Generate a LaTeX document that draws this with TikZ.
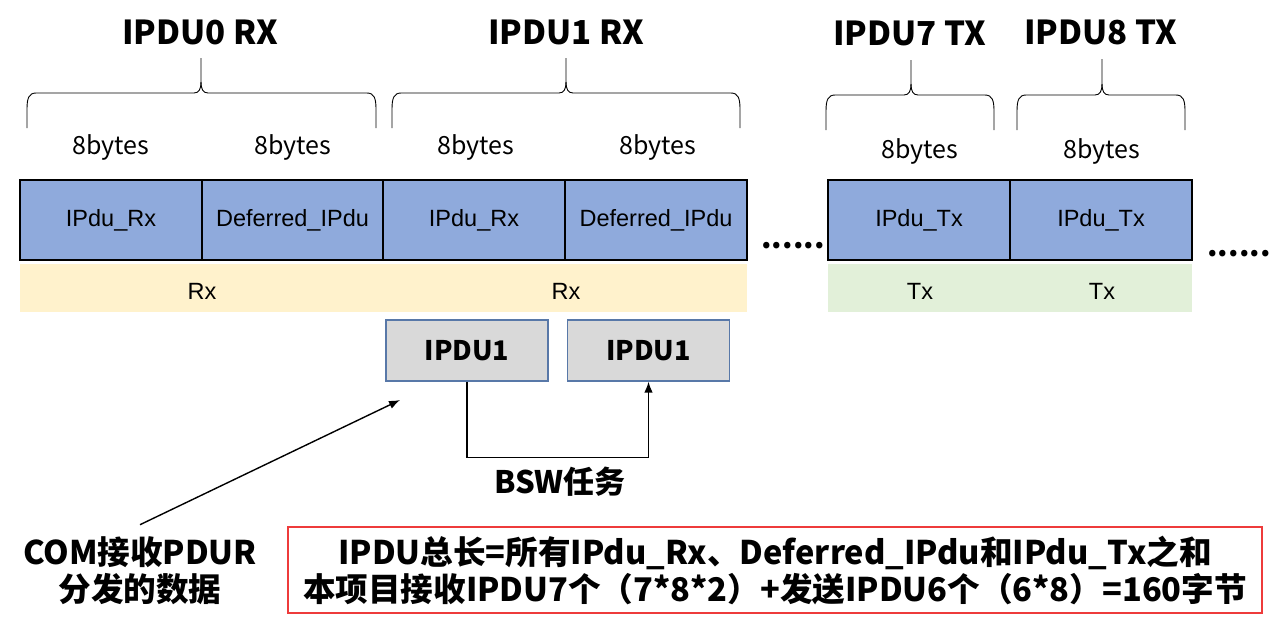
\documentclass[tikz,border=0pt]{standalone}
\usepackage{fontspec}
\setmainfont{Liberation Sans}
\newfontfamily\cjk{Noto Sans CJK SC}
\usetikzlibrary{arrows.meta}
\definecolor{blueF}{HTML}{8FAADC}
\definecolor{rxF}{HTML}{FFF2CC}
\definecolor{txF}{HTML}{E2F0D9}
\definecolor{grayF}{HTML}{D9D9D9}
\definecolor{grayB}{HTML}{5878A8}
\definecolor{redB}{HTML}{EE3B3B}
\newcommand{\mybrace}[6]{% xl xr xm ytop ymid ybot
  \draw[bracel] (#1,#6) -- (#1,#5+16) .. controls (#1,#5+5) and (#1+2,#5) .. (#1+9,#5)
    -- (#3-7,#5) .. controls (#3-2,#5) and (#3,#5-4) .. (#3,#5-11) -- (#3,#4);
  \draw[bracel] (#2,#6) -- (#2,#5+16) .. controls (#2,#5+5) and (#2-2,#5) .. (#2-9,#5)
    -- (#3+7,#5) .. controls (#3+2,#5) and (#3,#5-4) .. (#3,#5-11);
}
\begin{document}
\begin{tikzpicture}[x=1pt,y=-1pt,
  bluebox/.style={draw=black, line width=1.5pt, fill=blueF, minimum width=182, minimum height=80, inner sep=0, font=\fontsize{23.5}{27}\selectfont},
  barbox/.style={draw=none, minimum height=48, inner sep=0},
  bartxt/.style={inner sep=0, font=\fontsize{23.5}{27}\selectfont},
  graybox/.style={draw=grayB, line width=1.2pt, fill=grayF, minimum width=162, minimum height=61, inner sep=0, font=\cjk\bfseries\fontsize{27}{30}\selectfont},
  title/.style={font=\cjk\bfseries\fontsize{33}{38}\selectfont, inner sep=0},
  bytes/.style={font=\cjk\fontsize{25}{29}\selectfont, inner sep=0},
  bigtxt/.style={font=\cjk\bfseries\fontsize{32.6}{37}\selectfont, inner sep=0, align=center},
  bracel/.style={line width=0.9pt, black},
  conn/.style={line width=1.4pt, -{Latex[length=11pt,width=8.5pt]}}
]
\useasboundingbox (0,0) rectangle (1273,625);

% titles
\node[title] (t0) at (200,32) {IPDU0 RX};
\node[title] (t1) at (566,32) {IPDU1 RX};
\node[title] (t7) at (910,33) {IPDU7 TX};
\node[title] (t8) at (1101,32) {IPDU8 TX};

% braces
\mybrace{27}{376}{201}{58}{93}{128}
\mybrace{392}{740}{566}{58}{93}{128}
\mybrace{826}{994}{911}{60}{95}{130}
\mybrace{1017}{1185}{1102}{59}{95}{130}

% byte labels
\node[bytes] (b0a) at (111,147) {8bytes};
\node[bytes] (b0b) at (293,147) {8bytes};
\node[bytes] (b1a) at (476,147) {8bytes};
\node[bytes] (b1b) at (658,147) {8bytes};
\node[bytes] (b7) at (920,151) {8bytes};
\node[bytes] (b8) at (1102,151) {8bytes};

% bars
\node[barbox, fill=rxF, minimum width=363] (rx0) at (201.5,288) {};
\node[barbox, fill=rxF, minimum width=364] (rx1) at (565,288) {};
\node[barbox, fill=txF, minimum width=182] (tx7) at (919,288) {};
\node[barbox, fill=txF, minimum width=182] (tx8) at (1101,288) {};
\node[bartxt] (rx0t) at (202,291) {Rx};
\node[bartxt] (rx1t) at (566,291) {Rx};
\node[bartxt] (tx7t) at (920,291) {Tx};
\node[bartxt] (tx8t) at (1102,291) {Tx};

% blue boxes
\node[bluebox] (r0a) at (111,220) {IPdu\_Rx};
\node[bluebox, minimum width=181] (r0b) at (292.5,220) {Deferred\_IPdu};
\node[bluebox] (r1a) at (474,220) {IPdu\_Rx};
\node[bluebox] (r1b) at (656,220) {Deferred\_IPdu};
\node[bluebox] (x7) at (919,220) {IPdu\_Tx};
\node[bluebox] (x8) at (1101,220) {IPdu\_Tx};

% dots
\node[font=\cjk\bfseries\fontsize{30}{34}\selectfont, inner sep=0] (dots1) at (793,246) {......};
\node[font=\cjk\bfseries\fontsize{30}{34}\selectfont, inner sep=0] (dots2) at (1239,254) {......};

% gray boxes
\node[graybox] (g1) at (467,350.5) {IPDU1};
\node[graybox] (g2) at (648.5,350.5) {IPDU1};
\draw[conn] (g1.south) -- ++(0,76) -| (g2.south);
\node[font=\cjk\bfseries\fontsize{31}{36}\selectfont, inner sep=0] (bsw) at (560,482) {BSW任务};

% COM text and arrow
\node[bigtxt] (com) at (140,571) {COM接收PDUR\\分发的数据};
\coordinate (comtip) at (400,400);
\draw[conn] ([yshift=12pt]com.north) -- (comtip);

% red box
\node[draw=redB, line width=1.3pt, minimum width=974, minimum height=86, inner sep=0] (red) at (775,570) {};
\node[bigtxt] (redt) at (775,570.5) {IPDU总长=所有IPdu\_Rx、Deferred\_IPdu和IPdu\_Tx之和\\本项目接收IPDU7个（7*8*2）+发送IPDU6个（6*8）=160字节};
\end{tikzpicture}
\end{document}
